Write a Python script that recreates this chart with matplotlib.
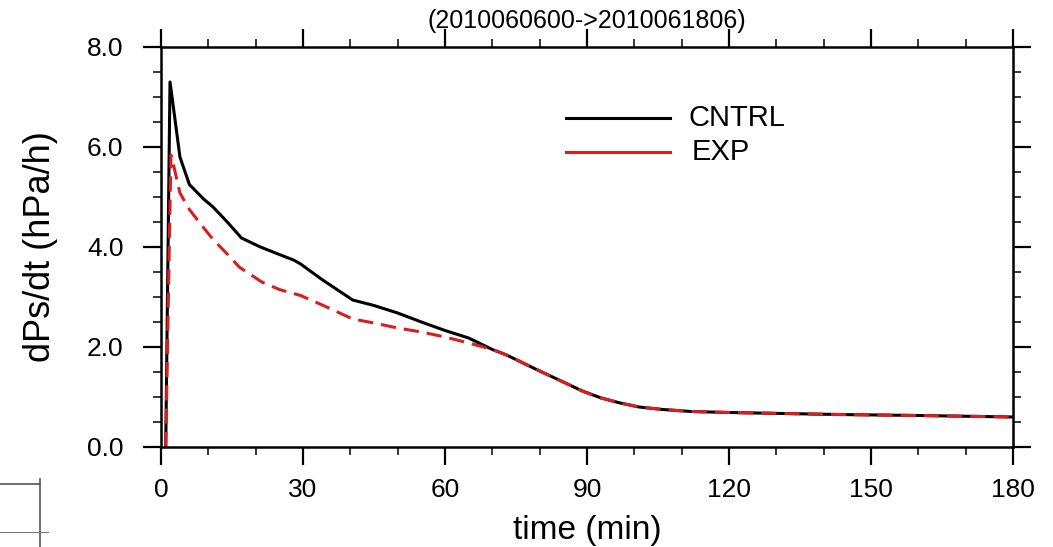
import numpy as np
import matplotlib
matplotlib.use("Agg")
import matplotlib.pyplot as plt
from matplotlib.lines import Line2D

plt.rcParams['font.family'] = ['Liberation Sans', 'DejaVu Sans']

# values
t_cntrl = [1, 1.9, 2.5, 4, 6, 9, 11, 14, 17, 21, 25, 28, 29.5, 34, 40.5, 45, 50, 55, 60,
           65, 70, 73, 80, 85, 89, 93, 97, 101, 106, 112, 120, 143, 160, 180]
cntrl = [0.0, 7.3, 6.88, 5.8, 5.25, 4.96, 4.8, 4.5, 4.18, 4.0, 3.85, 3.74, 3.66, 3.35, 2.94,
         2.83, 2.68, 2.5, 2.33, 2.18, 1.95, 1.84, 1.52, 1.3, 1.12, 0.98, 0.88, 0.8, 0.75,
         0.71, 0.69, 0.65, 0.63, 0.6]

t_exp = [1, 2.1, 2.5, 4, 6, 8.2, 11, 14.6, 16.5, 21.3, 25, 29.5, 35, 40.5, 45, 50, 55, 60,
         65, 70, 73, 80, 85, 89, 93, 97, 101, 106, 112, 120, 143, 160, 180]
exp = [0.0, 5.84, 5.7, 5.08, 4.75, 4.48, 4.15, 3.8, 3.6, 3.3, 3.15, 3.03, 2.8, 2.56, 2.48,
       2.38, 2.3, 2.2, 2.08, 1.95, 1.84, 1.52, 1.3, 1.12, 0.98, 0.88, 0.8, 0.75, 0.71, 0.69,
       0.65, 0.63, 0.6]

W, H = 1053, 547
fig = plt.figure(figsize=(W/100, H/100), dpi=100)
ax = fig.add_axes([161/W, (H-447)/H, 852/W, 400/H])

red = '#d81e1e'
ax.plot(t_cntrl, cntrl, color='black', lw=2.2)
ax.plot(t_exp, exp, color=red, lw=2.2, ls=(0, (5, 2.6)))

ax.set_xlim(0, 180)
ax.set_ylim(0, 8)
ax.set_xticks(np.arange(0, 181, 30))
ax.set_xticks(np.arange(0, 181, 10), minor=True)
ax.set_yticks(np.arange(0, 8.1, 2))
ax.set_yticks(np.arange(0, 8.1, 0.5), minor=True)
ax.set_yticklabels(['%.1f' % v for v in np.arange(0, 8.1, 2)])

ax.tick_params(which='both', direction='out', top=True, right=True, width=1.6,
               labelsize=19)
ax.tick_params(which='major', length=13)
ax.tick_params(axis='x', which='major', pad=9)
ax.tick_params(axis='y', which='major', pad=14)
ax.tick_params(which='minor', length=6, width=1.1)
for s in ax.spines.values():
    s.set_linewidth(1.8)

ax.set_xlabel('time (min)', fontsize=24, va='center')
ax.xaxis.set_label_coords(0.5, (447 - 531) / 400)
ax.set_ylabel('dPs/dt (hPa/h)', fontsize=26, va='center')
ax.yaxis.set_label_coords((41 - 161) / 852, 0.5)
fig.text(587 / W, 1 - 21 / H, '(2010060600->2010061806)', fontsize=18,
         ha='center', va='center')

# legend drawn as lines + text like the original
ax.plot([85.5, 107.5], [6.58, 6.58], color='black', lw=2.2)
ax.plot([85.5, 107.5], [5.9, 5.9], color=red, lw=2.2)
ax.text(111.5, 6.58, 'CNTRL', fontsize=21, va='center')
ax.text(112, 5.9, 'EXP', fontsize=21, va='center')

# stray box bottom left
fig.add_artist(Line2D([0, 40/W], [1-484/H, 1-484/H], color='#555555', lw=1.2))
fig.add_artist(Line2D([40/W, 40/W], [1-479/H, 0], color='#555555', lw=1.2))
fig.add_artist(Line2D([0, 48/W], [1-532/H, 1-532/H], color='#777777', lw=0.8))

fig.savefig('out.png', dpi=100)
